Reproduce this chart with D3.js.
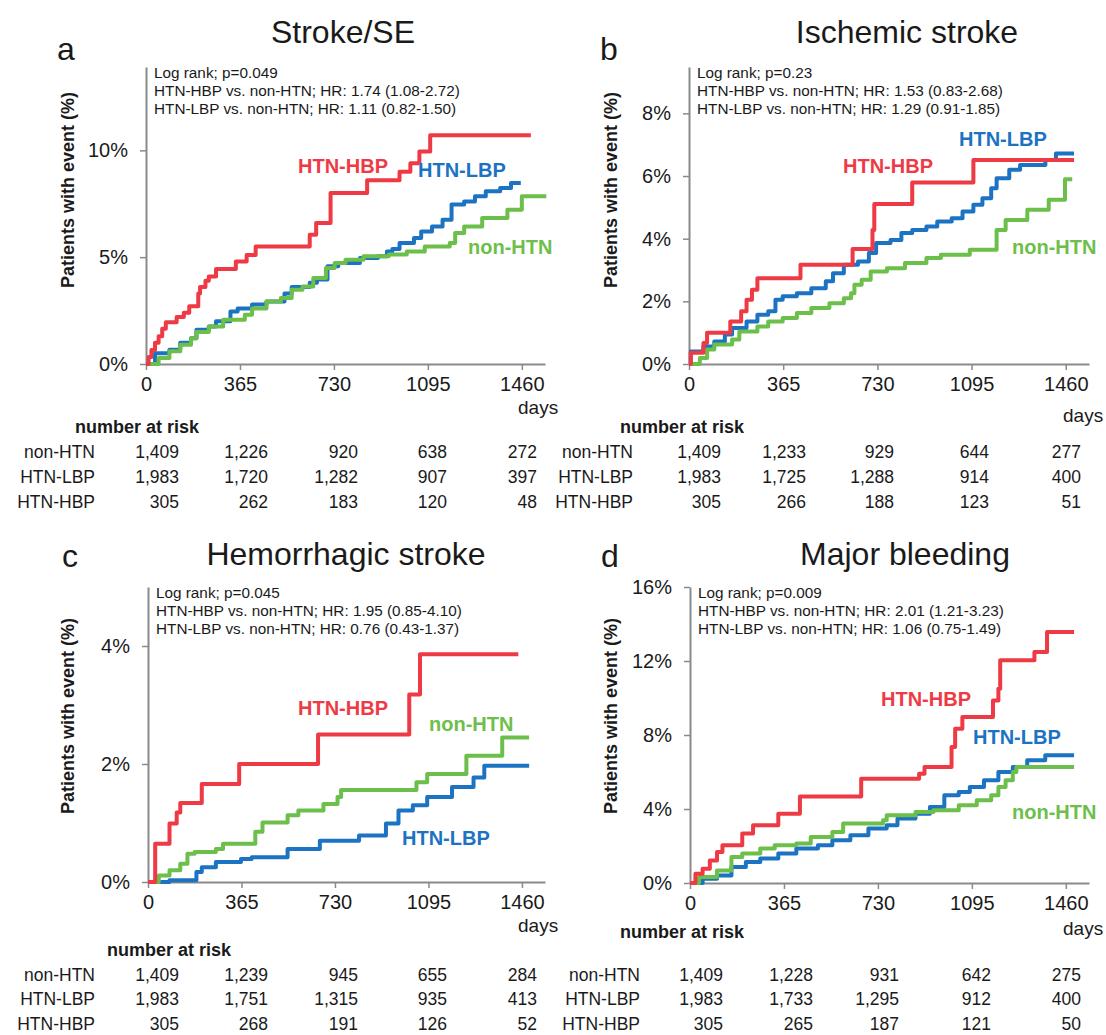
<html>
<head>
<meta charset="utf-8">
<script src="https://d3js.org/d3.v7.min.js"></script>
<style>
  body { margin: 0; background: #fff; }
  text { font-family: Arial, "Liberation Sans", sans-serif; fill: #1a1a1a; }
</style>
</head>
<body>
<script>
// ---- data ----
var dayTicks = [0, 365, 730, 1095, 1460];
var groups = ["non-HTN", "HTN-LBP", "HTN-HBP"];
var colors = {"non-HTN": "#6cbf4a", "HTN-LBP": "#1b73c2", "HTN-HBP": "#ee3a44"};

// cumulative incidence, [day, %]
var strokeNon = [[0,0],[49,0.28],[91,0.6],[133,0.9],[175,1.2],[196,1.5],[244,1.76],[300,2.07],[384,2.3],[412,2.6],[468,2.93],[524,3.09],[566,3.48],[608,3.63],[650,4.02],[699,4.49],[733,4.73],[775,4.88],[845,5.04],[943,5.12],[1013,5.27],[1083,5.5],[1180,5.66],[1201,6.13],[1236,6.44],[1306,6.83],[1404,7.22],[1460,7.85],[1555,7.85]];
var strokeLbp = [[0,0],[35,0.5],[91,0.67],[133,1.0],[175,1.2],[196,1.6],[244,1.76],[272,2.0],[328,2.46],[356,2.6],[412,2.78],[468,2.93],[538,3.3],[566,3.6],[636,3.8],[664,3.95],[705,4.57],[747,4.73],[831,4.96],[901,5.04],[936,5.27],[957,5.38],[985,5.66],[1041,5.9],[1069,6.2],[1111,6.44],[1152,6.75],[1187,7.46],[1236,7.6],[1278,7.85],[1320,8.08],[1376,8.24],[1418,8.47],[1456,8.47]];
var strokeHbp = [[0,0],[10,0.33],[21,0.66],[35,1.0],[49,1.3],[63,1.65],[77,1.95],[119,2.2],[147,2.4],[168,2.7],[203,3.3],[210,3.6],[231,3.9],[244,4.1],[272,4.45],[349,4.8],[391,5.1],[426,5.5],[636,6.05],[661,6.6],[717,8.0],[859,8.6],[985,9.0],[1027,9.4],[1062,9.95],[1104,10.7],[1495,10.7]];

var ischNon = [[0,0],[42,0.19],[70,0.46],[98,0.62],[167,0.78],[195,1.04],[265,1.2],[307,1.36],[363,1.47],[418,1.63],[474,1.79],[544,1.94],[600,2.1],[628,2.26],[641,2.53],[669,2.69],[704,2.95],[767,3.06],[837,3.22],[920,3.38],[976,3.49],[1088,3.65],[1192,4.28],[1227,4.6],[1311,4.92],[1394,5.24],[1457,5.9],[1485,5.9]];
var ischLbp = [[0,0],[7,0.4],[56,0.56],[98,0.72],[139,0.94],[167,1.15],[223,1.36],[265,1.57],[307,1.68],[335,2.05],[363,2.16],[418,2.26],[474,2.42],[530,2.64],[558,2.9],[600,3.17],[655,3.27],[697,3.54],[725,3.86],[781,3.96],[823,4.18],[865,4.28],[920,4.39],[962,4.55],[1018,4.65],[1060,4.87],[1102,5.08],[1137,5.29],[1171,5.61],[1192,5.93],[1241,6.2],[1283,6.35],[1381,6.51],[1422,6.72],[1492,6.72]];
var ischHbp = [[0,0],[7,0.36],[56,0.67],[70,1.0],[160,1.36],[202,1.68],[223,2.05],[244,2.37],[265,2.74],[432,3.17],[634,3.67],[711,4.28],[718,5.11],[865,5.79],[1102,6.51],[1492,6.51]];

var hemoNon = [[0,0],[42,0.11],[84,0.2],[126,0.31],[154,0.48],[182,0.51],[265,0.56],[293,0.65],[419,0.85],[447,1.01],[545,1.13],[587,1.21],[685,1.32],[740,1.44],[754,1.56],[1048,1.69],[1090,1.83],[1243,2.14],[1383,2.45],[1488,2.45]];
var hemoLbp = [[0,0],[84,0.03],[189,0.17],[210,0.25],[265,0.34],[363,0.39],[405,0.42],[545,0.56],[671,0.7],[824,0.79],[929,0.99],[978,1.21],[1034,1.3],[1090,1.44],[1187,1.61],[1271,1.77],[1313,1.97],[1488,1.97]];
var hemoHbp = [[0,0],[28,0.65],[84,0.99],[112,1.18],[126,1.34],[210,1.66],[356,2.0],[664,2.5],[985,2.5],[1020,3.18],[1062,3.86],[1446,3.86]];

var bleedNon = [[0,0],[35,0.32],[105,0.68],[161,1.41],[203,1.59],[273,1.86],[329,2.04],[413,2.13],[469,2.49],[553,2.76],[595,3.21],[750,3.39],[764,3.66],[876,3.84],[946,3.93],[1044,4.2],[1114,4.47],[1170,4.74],[1198,5.19],[1226,5.55],[1254,6.0],[1268,6.27],[1492,6.27]];
var bleedLbp = [[0,0],[49,0.23],[105,0.41],[161,0.86],[217,1.14],[273,1.32],[343,1.59],[413,1.86],[497,2.04],[553,2.31],[623,2.58],[693,2.94],[764,3.12],[806,3.48],[876,3.75],[932,4.11],[988,4.74],[1044,4.92],[1087,5.19],[1142,5.55],[1198,6.0],[1254,6.27],[1310,6.63],[1380,6.9],[1492,6.9]];
var bleedHbp = [[0,0],[21,0.5],[49,0.77],[77,1.22],[105,1.68],[126,2.04],[203,2.67],[245,3.12],[343,3.75],[427,4.68],[665,5.64],[890,5.91],[911,6.27],[1016,7.35],[1030,8.34],[1058,8.97],[1177,9.87],[1198,10.5],[1205,12.04],[1338,12.49],[1387,13.57],[1492,13.57]];

// number at risk: rows non-HTN, HTN-LBP, HTN-HBP
var riskStroke = [["1,409","1,226","920","638","272"],["1,983","1,720","1,282","907","397"],["305","262","183","120","48"]];
var riskIsch   = [["1,409","1,233","929","644","277"],["1,983","1,725","1,288","914","400"],["305","266","188","123","51"]];
var riskHemo   = [["1,409","1,239","945","655","284"],["1,983","1,751","1,315","935","413"],["305","268","191","126","52"]];
var riskBleed  = [["1,409","1,228","931","642","275"],["1,983","1,733","1,295","912","400"],["305","265","187","121","50"]];

var statsStroke = ["Log rank; p=0.049", "HTN-HBP vs. non-HTN; HR: 1.74 (1.08-2.72)", "HTN-LBP vs. non-HTN; HR: 1.11 (0.82-1.50)"];
var statsIsch   = ["Log rank; p=0.23", "HTN-HBP vs. non-HTN; HR: 1.53 (0.83-2.68)", "HTN-LBP vs. non-HTN; HR: 1.29 (0.91-1.85)"];
var statsHemo   = ["Log rank; p=0.045", "HTN-HBP vs. non-HTN; HR: 1.95 (0.85-4.10)", "HTN-LBP vs. non-HTN; HR: 0.76 (0.43-1.37)"];
var statsBleed  = ["Log rank; p=0.009", "HTN-HBP vs. non-HTN; HR: 2.01 (1.21-3.23)", "HTN-LBP vs. non-HTN; HR: 1.06 (0.75-1.49)"];

// ---- layout ----
var panels = [
  {letter: "a", title: "Stroke/SE", curves: [strokeNon, strokeLbp, strokeHbp], risk: riskStroke, stats: statsStroke,
   left: 146, top: 67, w: 399, h: 297, yMax: 13.9, yTicks: [0, 5, 10], titleX: 343, titleY: 43, letterX: 57, letterY: 60,
   labels: {"HTN-HBP": [298, 173], "HTN-LBP": [418, 177], "non-HTN": [468, 254]},
   ytX: 68, ytY: 190,
   daysX: 518, daysY: 414, narX: 75, narY: 433, rowY: [458, 483, 508], labRight: 95, cols: [179, 268, 358, 447, 537]},
  {letter: "b", title: "Ischemic stroke", curves: [ischNon, ischLbp, ischHbp], risk: riskIsch, stats: statsIsch,
   left: 689, top: 67, w: 400, h: 297, yMax: 9.48, yTicks: [0, 2, 4, 6, 8], titleX: 907, titleY: 43, letterX: 600, letterY: 60,
   labels: {"HTN-HBP": [843, 173], "HTN-LBP": [959, 146], "non-HTN": [1012, 254]},
   ytX: 611, ytY: 190,
   daysX: 1063, daysY: 422, narX: 620, narY: 433, rowY: [458, 483, 508], labRight: 633, cols: [721, 806, 894, 989, 1081]},
  {letter: "c", title: "Hemorrhagic stroke", curves: [hemoNon, hemoLbp, hemoHbp], risk: riskHemo, stats: statsHemo,
   left: 148, top: 587, w: 397, h: 295, yMax: 5, yTicks: [0, 2, 4], titleX: 346, titleY: 565, letterX: 62, letterY: 567,
   labels: {"HTN-HBP": [298, 715], "HTN-LBP": [402, 845], "non-HTN": [429, 731]},
   ytX: 68, ytY: 716,
   daysX: 518, daysY: 932, narX: 107, narY: 956, rowY: [981, 1005, 1030], labRight: 95, cols: [179, 268, 358, 447, 537]},
  {letter: "d", title: "Major bleeding", curves: [bleedNon, bleedLbp, bleedHbp], risk: riskBleed, stats: statsBleed,
   left: 690, top: 587, w: 399, h: 296, yMax: 16, yTicks: [0, 4, 8, 12, 16], titleX: 905, titleY: 565, letterX: 601, letterY: 567,
   labels: {"HTN-HBP": [881, 706], "HTN-LBP": [973, 744], "non-HTN": [1012, 819]},
   ytX: 611, ytY: 716,
   daysX: 1063, daysY: 935, narX: 620, narY: 938, rowY: [981, 1005, 1030], labRight: 640, cols: [723, 813, 899, 991, 1081]}
];

var svg = d3.select("body").append("svg")
    .attr("width", 1106)
    .attr("height", 1035);

var drawOrder = [1, 0, 2]; // blue, green, red on top

panels.forEach(function(p) {
    var x = d3.scaleLinear().domain([0, 1550]).range([0, p.w]);
    var y = d3.scaleLinear().domain([0, p.yMax]).range([p.h, 0]);

    svg.append("text").attr("x", p.letterX).attr("y", p.letterY)
        .attr("font-size", 32).text(p.letter);
    svg.append("text").attr("x", p.titleX).attr("y", p.titleY)
        .attr("font-size", 32).attr("text-anchor", "middle").text(p.title);

    var g = svg.append("g").attr("transform", "translate(" + p.left + "," + p.top + ")");

    var xAxis = g.append("g").attr("transform", "translate(0," + p.h + ")")
        .call(d3.axisBottom(x).tickValues(dayTicks).tickFormat(d3.format("d"))
            .tickSize(6).tickSizeOuter(0).tickPadding(7));
    var yAxis = g.append("g")
        .call(d3.axisLeft(y).tickValues(p.yTicks).tickFormat(function(d) { return d + "%"; })
            .tickSize(6).tickSizeOuter(0).tickPadding(12));
    [xAxis, yAxis].forEach(function(a) {
        a.select(".domain").attr("stroke", "#8a8a8a").attr("stroke-width", 2);
        a.selectAll(".tick line").attr("stroke", "#8a8a8a").attr("stroke-width", 1.5);
        a.selectAll(".tick text").attr("font-size", 20).attr("fill", "#1a1a1a")
            .attr("font-family", "Arial, 'Liberation Sans', sans-serif");
    });

    svg.append("text")
        .attr("transform", "translate(" + p.ytX + "," + p.ytY + ") rotate(-90)")
        .attr("text-anchor", "middle").attr("dominant-baseline", "central")
        .attr("font-size", 18).attr("font-weight", "bold")
        .text("Patients with event (%)");

    p.stats.forEach(function(s, i) {
        g.append("text").attr("x", 8).attr("y", 11 + i * 18)
            .attr("font-size", 15.3).text(s);
    });

    var line = d3.line()
        .x(function(d) { return x(d[0]); })
        .y(function(d) { return y(d[1]); })
        .curve(d3.curveStepAfter);

    drawOrder.forEach(function(k) {
        g.append("path").datum(p.curves[k])
            .attr("fill", "none")
            .attr("stroke", colors[groups[k]])
            .attr("stroke-width", 4)
            .attr("stroke-linejoin", "round")
            .attr("d", line);
    });

    groups.forEach(function(name) {
        var pos = p.labels[name];
        svg.append("text").attr("x", pos[0]).attr("y", pos[1])
            .attr("font-size", 20).attr("font-weight", "bold")
            .style("fill", colors[name]).text(name);
    });

    svg.append("text").attr("x", p.daysX).attr("y", p.daysY)
        .attr("font-size", 19).text("days");
    svg.append("text").attr("x", p.narX).attr("y", p.narY)
        .attr("font-size", 18).attr("font-weight", "bold").text("number at risk");

    p.risk.forEach(function(row, i) {
        svg.append("text").attr("x", p.labRight).attr("y", p.rowY[i])
            .attr("font-size", 17.5).attr("text-anchor", "end").text(groups[i]);
        row.forEach(function(v, j) {
            svg.append("text").attr("x", p.cols[j]).attr("y", p.rowY[i])
                .attr("font-size", 17.5).attr("text-anchor", "end").text(v);
        });
    });
});
</script>
</body>
</html>
